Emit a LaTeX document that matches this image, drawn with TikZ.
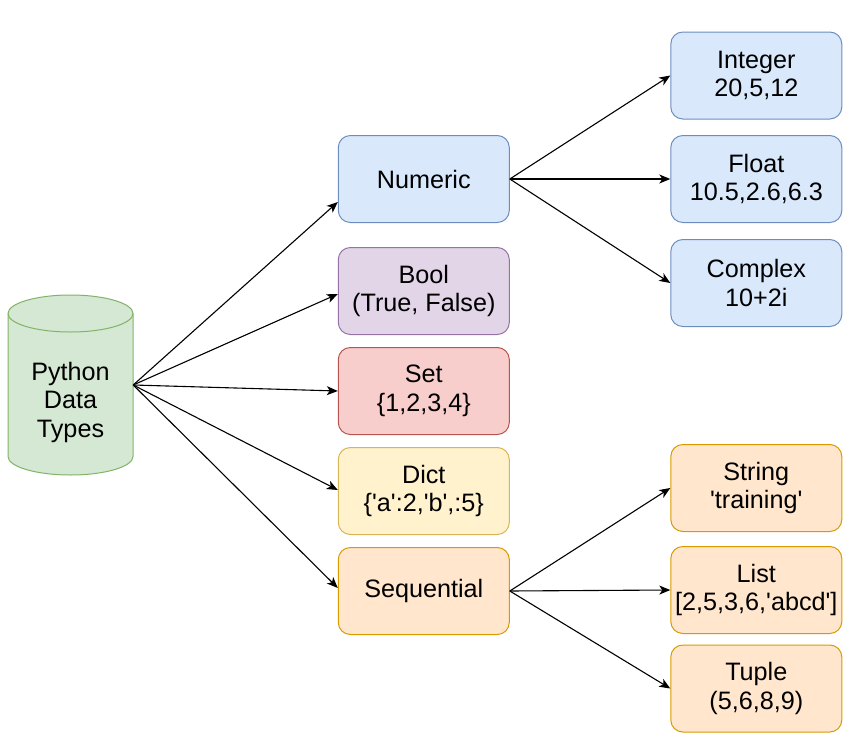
\documentclass[tikz,border=0pt]{standalone}
\usepackage{fontspec}
\setmainfont{Liberation Sans}
\usetikzlibrary{arrows.meta,calc}
\definecolor{blueF}{HTML}{DAE8FC}\definecolor{blueD}{HTML}{6C8EBF}
\definecolor{purpF}{HTML}{E1D5E7}\definecolor{purpD}{HTML}{9673A6}
\definecolor{redF}{HTML}{F8CECC}\definecolor{redD}{HTML}{B85450}
\definecolor{yelF}{HTML}{FFF2CC}\definecolor{yelD}{HTML}{D6B656}
\definecolor{oraF}{HTML}{FFE6CC}\definecolor{oraD}{HTML}{D79B00}
\definecolor{grnF}{HTML}{D5E8D4}\definecolor{grnD}{HTML}{82B366}
\newcommand{\sq}{\textquotesingle}
\begin{document}
\begin{tikzpicture}[x=1pt,y=-1pt,
  txt/.style={font=\fontsize{25.2}{28.5}\selectfont, align=center, text=black},
  box/.style={txt, rectangle, rounded corners=12pt, minimum width=171pt, minimum height=87pt, inner sep=0pt, line width=1pt},
  bluebox/.style={box, fill=blueF, draw=blueD},
  purpbox/.style={box, fill=purpF, draw=purpD},
  redbox/.style={box, fill=redF, draw=redD},
  yelbox/.style={box, fill=yelF, draw=yelD},
  orabox/.style={box, fill=oraF, draw=oraD},
  conn/.style={-{Stealth[length=11pt,width=9pt,inset=3pt]}, line width=1.1pt, black}]
\useasboundingbox (0,0) rectangle (868,747);
% cylinder
\filldraw[fill=grnF, draw=grnD, line width=1pt]
  (8,313.5) -- (8,456.5) arc[start angle=180, end angle=360, x radius=62.5pt, y radius=18.5pt]
  -- (133,313.5) arc[start angle=0, end angle=180, x radius=62.5pt, y radius=18.5pt] -- cycle;
\draw[draw=grnD, line width=1pt] (8,313.5) arc[start angle=180, end angle=360, x radius=62.5pt, y radius=18.5pt];
\node[minimum width=125pt, minimum height=180pt, inner sep=0pt] (db) at (70.5,385) {};
\node[txt] (dblabel) at (70.5,402) {Python\\Data\\Types};
% middle column
\node[bluebox] (num) at (423.8,179) {Numeric};
\node[purpbox] (bool) at (423.8,291) {Bool\\(True, False)};
\node[redbox] (set) at (423.8,391) {Set\\\{1,2,3,4\}};
\node[yelbox] (dict) at (423.8,491) {Dict\\\{\sq a\sq:2,\sq b\sq,:5\}};
\node[orabox] (seq) at (423.8,591) {Sequential};
% right column
\node[bluebox] (int) at (756.3,75.5) {Integer\\20,5,12};
\node[bluebox] (flt) at (756.3,179) {Float\\10.5,2.6,6.3};
\node[bluebox] (cpx) at (756.3,283) {Complex\\10+2i};
\node[orabox] (str) at (756.3,488) {String\\\sq training\sq};
\node[orabox] (lst) at (756.3,590) {List\\{[}2,5,3,6,\sq abcd\sq{]}};
\node[orabox] (tup) at (756.3,688.5) {Tuple\\(5,6,8,9)};
% connectors
\draw[conn] (db.east) -- ($(num.west)+(0,23)$);
\draw[conn] (db.east) -- ($(bool.west)+(0,3)$);
\draw[conn] (db.east) -- (set.west);
\draw[conn] (db.east) -- ($(dict.west)+(0,-1)$);
\draw[conn] (db.east) -- ($(seq.west)+(0,-3)$);
\draw[conn] (num.east) -- (int.west);
\draw[conn] (num.east) -- (flt.west);
\draw[conn] (num.east) -- (cpx.west);
\draw[conn] (seq.east) -- (str.west);
\draw[conn] (seq.east) -- (lst.west);
\draw[conn] (seq.east) -- (tup.west);
\end{tikzpicture}
\end{document}
